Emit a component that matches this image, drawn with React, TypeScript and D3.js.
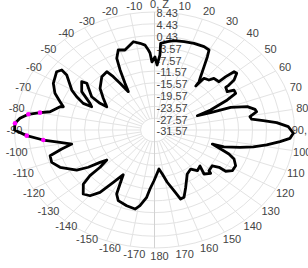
import { useEffect, useRef } from "react";
import * as d3 from "d3";

// pattern traced around the plot (deg, dB)
const angles = [
  0.3, 1.9, 3.5, 3.4, 7.0, 10.4, 15.8, 21.0, 26.6, 29.9, 31.3, 33.4, 36.1, 37.9, 38.3, 38.9, 42.5, 44.1,
  48.4, 48.4, 49.0, 50.7, 53.3, 54.4, 54.6, 58.0, 59.2, 61.8, 63.9, 67.1, 68.4, 69.9, 70.6, 73.4, 76.3,
  78.0, 80.6, 82.5, 84.2, 85.9, 88.3, 91.6, 94.2, 96.3, 99.0, 101.4, 103.5, 106.0, 106.1, 108.8, 110.9,
  113.4, 117.6, 121.8, 124.5, 124.4, 126.3, 131.6, 132.5, 136.5, 133.2, 138.4, 142.0, 147.9, 155.4,
  159.7, 162.3, 164.9, 168.4, 171.5, 174.5, -179.5, -176.3, -174.4, -170.8, -168.3, -162.8, -156.6,
  -153.5, -151.7, -149.5, -146.4, -143.6, -140.4, -136.8, -132.0, -130.0, -129.1, -126.7, -125.2,
  -123.7, -121.4, -115.1, -110.5, -106.3, -103.6, -101.4, -98.8, -96.1, -93.0, -90.0, -86.7, -84.1,
  -81.6, -79.8, -78.3, -73.7, -73.2, -70.4, -66.4, -61.3, -54.8, -52.5, -53.4, -60.2, -63.1, -66.1,
  -66.3, -63.9, -58.0, -51.8, -50.7, -57.9, -59.9, -60.0, -53.7, -47.8, -39.8, -34.6, -33.1, -31.9,
  -29.9, -28.0, -25.8, -23.9, -20.9, -17.3, -11.4, -8.0, -5.4, -3.7, -2.8, -1.8,
];
const gains = [
  -6.81, -9.53, -6.09, -2.13, -1.41, -0.77, -0.45, -0.09, 0.03, -0.29, -2.49, -5.85, -9.21, -10.85,
  -12.57, -9.05, -8.57, -7.17, -6.93, -4.33, -1.45, -1.21, -3.21, -5.41, -6.61, -7.05, -5.13, -5.25,
  -8.41, -14.17, -18.41, -14.49, -8.49, -3.89, -2.01, -1.73, -3.93, -3.57, -0.33, 3.43, 6.67, 8.11,
  7.23, 4.51, 0.87, -2.77, -6.45, -10.93, -14.37, -11.57, -8.81, -6.81, -5.41, -5.41, -6.89, -9.21,
  -11.09, -10.77, -9.81, -11.01, -13.73, -13.13, -14.77, -13.97, -10.17, -7.25, -7.01, -10.25, -13.49,
  -16.49, -18.29, -14.37, -11.53, -8.65, -5.57, -4.21, -4.69, -5.49, -7.33, -10.77, -13.97, -10.29,
  -5.33, -2.65, -1.81, -4.21, -7.49, -11.53, -14.57, -12.53, -8.81, -5.53, -1.77, -0.21, -0.49, -4.29,
  -7.45, -4.25, 0.39, 4.99, 8.43, 8.35, 7.07, 4.87, 1.67, -1.09, -3.45, -4.37, -2.93, -0.53, 1.39, 2.67,
  1.83, -0.33, -4.33, -6.65, -9.29, -11.97, -11.05, -7.05, -5.09, -6.57, -10.37, -13.57, -15.81,
  -13.41, -10.57, -8.05, -7.57, -10.01, -12.93, -16.57, -13.61, -8.97, -4.97, -2.53, -3.17, -1.05,
  -1.89, -2.65, -4.41, -5.45, -8.49,
];
const markerAngles = [-96.1, -93.0, -86.7, -81.6, -79.8];

const ringTicks = [8.43, 4.43, 0.43, -3.57, -7.57, -11.57, -15.57, -19.57, -23.57, -27.57, -31.57];
const spokeAngles = d3.range(-170, 181, 10);
const spokeLabels = spokeAngles.map((a) => (a === 0 ? "0, Z" : a === 90 ? "90, X" : String(a)));

const W = 308;
const H = 268;

export default function App() {
  const svgRef = useRef<SVGSVGElement>(null);

  useEffect(() => {
    const svg = d3.select(svgRef.current);
    svg.selectAll("*").remove();

    const cx = 154.5;
    const cy = 130;
    const rx = 140;
    const ry = 118;

    const r = d3.scaleLinear().domain([-31.57, 8.43]).range([0, 1]);
    const rad = d3.scaleLinear().domain([0, 180]).range([0, Math.PI]);
    const px = (a: number, f: number) => cx + f * rx * Math.sin(rad(a));
    const py = (a: number, f: number) => cy - f * ry * Math.cos(rad(a));

    const g = svg.append("g");

    // rings
    g.selectAll("ellipse")
      .data(ringTicks.slice(0, -1))
      .enter()
      .append("ellipse")
      .attr("cx", cx)
      .attr("cy", cy)
      .attr("rx", (d) => r(d) * rx)
      .attr("ry", (d) => r(d) * ry)
      .attr("fill", "none")
      .attr("stroke", "#e3e3e3")
      .attr("stroke-width", 1);

    // spokes
    const inner = r(-27.57);
    g.selectAll("line.spoke")
      .data(spokeAngles)
      .enter()
      .append("line")
      .attr("class", "spoke")
      .attr("x1", (a) => px(a, a === 0 || a === 180 ? 0 : inner))
      .attr("y1", (a) => py(a, a === 0 || a === 180 ? 0 : inner))
      .attr("x2", (a) => px(a, 1))
      .attr("y2", (a) => py(a, 1))
      .attr("stroke", (a) => (a === 0 || a === 180 ? "#d2d2d2" : "#e3e3e3"))
      .attr("stroke-width", 1);

    // angle labels
    g.selectAll("text.ang")
      .data(spokeAngles)
      .enter()
      .append("text")
      .attr("class", "ang")
      .attr("x", (a) => cx + 5 + 145 * Math.sin(rad(a)))
      .attr("y", (a) => cy - 126 * Math.cos(rad(a)))
      .attr("dy", "0.35em")
      .attr("text-anchor", "middle")
      .attr("font-family", "'Liberation Sans', Arial, sans-serif")
      .attr("font-size", 11)
      .attr("fill", "#444")
      .text((_, i) => spokeLabels[i]);

    // radial labels
    g.selectAll("text.rad")
      .data(ringTicks)
      .enter()
      .append("text")
      .attr("class", "rad")
      .attr("x", cx + 2)
      .attr("y", (d) => cy - r(d) * ry + 1.5)
      .attr("dy", "0.35em")
      .attr("font-family", "'Liberation Sans', Arial, sans-serif")
      .attr("font-size", 11)
      .attr("fill", "#444")
      .text((d) => d.toFixed(2));

    // pattern
    const pts = angles.map((a, i) => [px(a, r(gains[i])), py(a, r(gains[i]))] as [number, number]);
    g.append("path")
      .attr("d", d3.line().curve(d3.curveLinearClosed)(pts))
      .attr("fill", "none")
      .attr("stroke", "#000")
      .attr("stroke-width", 2.8)
      .attr("stroke-linejoin", "round");

    // highlighted samples
    const marks = markerAngles.map((m) => angles.indexOf(m)).filter((i) => i >= 0);
    g.selectAll("circle")
      .data(marks)
      .enter()
      .append("circle")
      .attr("cx", (i) => pts[i][0])
      .attr("cy", (i) => pts[i][1])
      .attr("r", 2.3)
      .attr("fill", "#ff00ff");
  }, []);

  return (
    <svg
      ref={svgRef}
      width={W}
      height={H}
      style={{ position: "absolute", left: 0, top: 0, background: "#fff" }}
    />
  );
}
